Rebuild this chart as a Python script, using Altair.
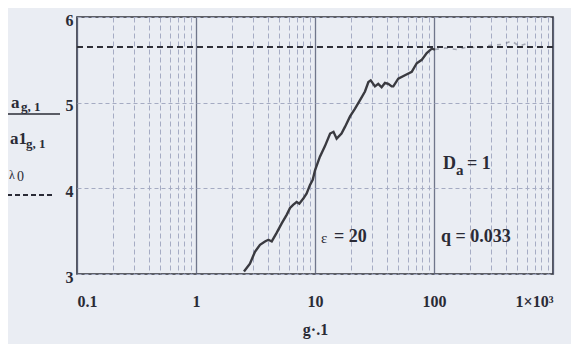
import altair as alt
import pandas as pd

# ---- data ----
curve_x = [2.53, 2.84, 3.13, 3.45, 3.80, 4.06, 4.33, 4.76, 5.25, 5.78, 6.17, 6.58, 7.01, 7.38,
           7.98, 8.51, 9.08, 9.57, 10.0, 11.0, 12.1, 13.4, 14.3, 15.2, 16.7, 17.9, 19.7, 21.7,
           23.9, 26.3, 28.1, 29.4, 31.9, 34.0, 36.3, 38.7, 41.3, 44.1, 45.5, 50.1, 57.0, 65.0,
           71.6, 78.9, 86.9, 95.7, 101.9]
curve_y = [3.03, 3.12, 3.26, 3.34, 3.38, 3.40, 3.38, 3.48, 3.59, 3.69, 3.77, 3.81, 3.84, 3.82,
           3.88, 3.94, 4.04, 4.10, 4.21, 4.37, 4.49, 4.64, 4.66, 4.58, 4.64, 4.72, 4.84, 4.93,
           5.03, 5.13, 5.24, 5.26, 5.19, 5.22, 5.18, 5.23, 5.22, 5.19, 5.19, 5.28, 5.32, 5.36,
           5.46, 5.50, 5.58, 5.63, 5.62]
tail_x = [101.9, 125, 155, 190, 240, 300, 380, 450, 520, 600]
tail_y = [5.62, 5.64, 5.62, 5.65, 5.64, 5.67, 5.68, 5.72, 5.66, 5.69]
lambda0 = 5.65
x_domain = [0.1, 1000]
y_domain = [3, 6]
x_major = [0.1, 1, 10, 100, 1000]
x_tick_labels = ["0.1", "1", "10", "100", "1×10³"]
y_ticks = [3, 4, 5, 6]
x_grid = [round(k * 10.0 ** d, 6) for d in range(-1, 3) for k in range(1, 10)] + [1000]

FONT = "Liberation Serif"
INK = "#2a2b36"
BG = "#eaedf3"

curve = pd.DataFrame({"x": curve_x, "y": curve_y})
tail = pd.DataFrame({"x": tail_x, "y": tail_y})
lam = pd.DataFrame({"x": x_domain, "y": [lambda0, lambda0]})

major_test = "abs(log(datum.value)/LN10 - round(log(datum.value)/LN10)) < 0.000001"
label_expr = " : ".join(
    f"abs(datum.value - {v}) < {v}*0.001 ? '{t}'" for v, t in zip(x_major, x_tick_labels)
) + " : ''"

xscale = alt.Scale(type="log", domain=x_domain, nice=False)
yscale = alt.Scale(domain=y_domain, nice=False, zero=False)

xaxis = alt.Axis(
    values=x_grid, labelExpr=label_expr, title="g·.1", ticks=False, domain=False,
    labelOverlap=False, labelFont=FONT, labelFontWeight="bold", labelFontSize=16,
    labelColor=INK, labelPadding=19, titleFont=FONT, titleFontWeight="bold",
    titleFontSize=16, titleColor=INK, titlePadding=12,
    grid=True,
    gridColor={"condition": {"test": major_test, "value": "#5a6078"}, "value": "#9aa0bb"},
    gridDash={"condition": {"test": major_test, "value": []}, "value": [5, 3]},
    gridWidth={"condition": {"test": major_test, "value": 1.3}, "value": 1},
    gridOpacity=0.85,
)
yaxis = alt.Axis(
    values=y_ticks, format="d", title=None, ticks=False, domain=False, labelFont=FONT,
    labelFontWeight="bold", labelFontSize=16, labelColor=INK, labelPadding=4,
    labelOffset=3, grid=True, gridColor="#a5abc2", gridDash=[4, 3], gridWidth=1,
)

base_line = alt.Chart(curve).mark_line(color="#3a3a40", strokeWidth=2.4, interpolate="linear").encode(
    x=alt.X("x:Q", scale=xscale, axis=xaxis),
    y=alt.Y("y:Q", scale=yscale, axis=yaxis),
)
tail_line = alt.Chart(tail).mark_line(color="#55586a", strokeWidth=1.6, opacity=0.45,
                                      strokeDash=[4, 5]).encode(
    x=alt.X("x:Q", scale=xscale), y=alt.Y("y:Q", scale=yscale))
lam_line = alt.Chart(lam).mark_line(color="#2f3038", strokeWidth=2, strokeDash=[6, 4]).encode(
    x=alt.X("x:Q", scale=xscale), y=alt.Y("y:Q", scale=yscale))


def txt(s, x, y, size=17, align="left", weight="bold"):
    return alt.Chart(pd.DataFrame({"t": [s]})).mark_text(
        font=FONT, fontSize=size, fontWeight=weight, color=INK, align=align, baseline="middle"
    ).encode(text="t:N", x=alt.value(x), y=alt.value(y))


def rule(x1, x2, y, dash=None, w=1.6):
    kw = dict(color=INK, strokeWidth=w)
    if dash:
        kw["strokeDash"] = dash
    return alt.Chart(pd.DataFrame({"a": [0]})).mark_rule(**kw).encode(
        x=alt.value(x1), x2=alt.value(x2), y=alt.value(y))


ox, oy = 77, 17  # plot origin on page
annots = [
    txt("a", 11 - ox, 103 - oy, 17),
    txt("g, 1", 21 - ox, 107 - oy, 13),
    rule(7 - ox, 60 - ox, 114 - oy),
    txt("a1", 10 - ox, 139 - oy, 17),
    txt("g, 1", 26 - ox, 144 - oy, 13),
    txt("λ", 9 - ox, 175 - oy, 12, weight="normal"),
    txt("0", 17 - ox, 177 - oy, 14, weight="normal"),
    rule(7 - ox, 54 - ox, 195 - oy, dash=[5, 3], w=2),
    txt("ε", 321 - ox, 238 - oy, 15, weight="normal"),
    txt("= 20", 334 - ox, 237 - oy, 18),
    txt("D", 443 - ox, 164 - oy, 18),
    txt("a", 456 - ox, 170 - oy, 15),
    txt("= 1", 467 - ox, 164 - oy, 18),
    txt("q = 0.033", 441 - ox, 237 - oy, 18),
]

chart = alt.layer(base_line, tail_line, lam_line, *annots).properties(
    width=476, height=257, background=BG,
    autosize=alt.AutoSizeParams(type="none"),
    padding={"left": 69, "top": 9, "right": 18, "bottom": 70},
).configure_view(stroke="#2f3038", strokeWidth=1.6)

chart.save("out.html", embed_options={"renderer": "svg", "actions": False})
